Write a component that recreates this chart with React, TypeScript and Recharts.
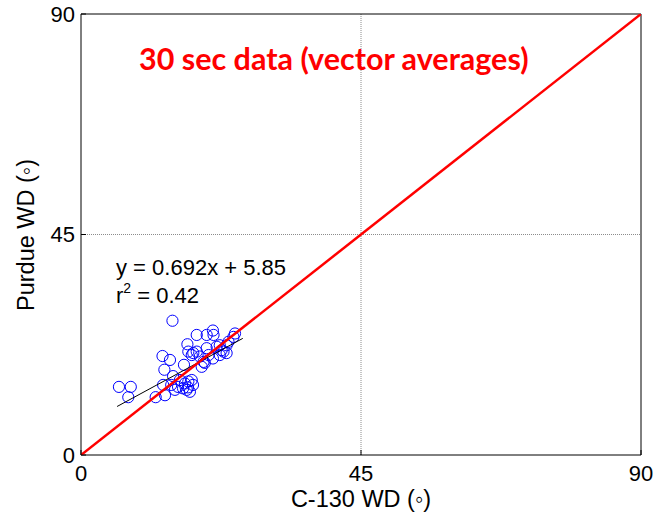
import React from "react";
import {
  ScatterChart,
  Scatter,
  XAxis,
  YAxis,
  ReferenceLine,
} from "recharts";

// 30 s vector-averaged wind direction, C-130 vs Purdue (degrees)
const c130Wd = [
  14.7, 6.1, 8.0, 7.6, 12.0, 13.1, 14.3, 13.4, 14.8, 13.2, 13.5, 15.1, 14.5,
  15.9, 16.7, 17.2, 17.8, 18.0, 17.0, 16.4, 15.6, 17.5, 16.55, 17.1, 17.25,
  18.6, 20.2, 21.2, 21.3, 18.6, 20.2, 19.1, 19.7, 20.5, 21.2, 21.8, 22.9, 23.4,
  23.7, 24.75, 24.5, 22.3, 19.4, 17.8, 22.3, 18.05, 19.9, 22.6, 23.4, 17.25,
];
const purdueWd = [
  27.4, 13.9, 13.9, 11.8, 11.8, 20.2, 19.4, 17.4, 16.1, 14.3, 12.2, 13.3, 14.3,
  15.3, 14.6, 13.8, 15.3, 14.3, 13.3, 13.6, 13.9, 12.9, 18.4, 22.6, 21.1,
  24.5, 24.5, 25.4, 24.5, 21.1, 21.8, 20.1, 19.0, 20.4, 19.7, 22.1, 21.1, 20.8,
  23.1, 24.8, 24.1, 22.4, 18.0, 20.4, 20.4, 20.8, 18.8, 21.4, 22.4, 15.0,
];

// least-squares fit ends (y = 0.692x + 5.85) and the 1:1 line
const fitX = [5.8, 26.0];
const fitY = [9.9, 23.8];
const oneToOneX = [0, 90];
const oneToOneY = [0, 90];

const axisTicks = [0, 45, 90];

const points = c130Wd.map((x, i) => ({ x, y: purdueWd[i] }));
const fitLine = fitX.map((x, i) => ({ x, y: fitY[i] }));
const oneToOne = oneToOneX.map((x, i) => ({ x, y: oneToOneY[i] }));

const FONT = "'Liberation Sans', Arial, sans-serif";

const OpenCircle = (props: any) => (
  <circle
    cx={props.cx}
    cy={props.cy}
    r={5.6}
    fill="none"
    stroke="#0000ff"
    strokeWidth={1}
  />
);

const NoDot = () => <g />;

const XTick = (props: any) => {
  const { x, y, payload } = props;
  const axisY = y - 10;
  return (
    <g>
      <line x1={x} x2={x} y1={axisY} y2={axisY - 5} stroke="#000" />
      <text
        x={x}
        y={y}
        dy="0.71em"
        textAnchor="middle"
        fontFamily={FONT}
        fontSize={22}
        fill="#000"
      >
        {payload.value}
      </text>
    </g>
  );
};

const YTick = (props: any) => {
  const { x, y, payload } = props;
  const axisX = x + 6;
  return (
    <g>
      <line x1={axisX} x2={axisX + 5} y1={y} y2={y} stroke="#000" />
      <text
        x={x}
        y={y}
        dy="0.36em"
        textAnchor="end"
        fontFamily={FONT}
        fontSize={22}
        fill="#000"
      >
        {payload.value}
      </text>
    </g>
  );
};

export default function App() {
  return (
    <div
      style={{
        position: "absolute",
        left: 0,
        top: 0,
        width: 659,
        height: 515,
        background: "#fff",
      }}
    >
      <ScatterChart
        width={659}
        height={515}
        margin={{ top: 14, right: 18, bottom: 30, left: 41 }}
      >
        <XAxis
          type="number"
          dataKey="x"
          domain={[0, 90]}
          ticks={axisTicks}
          height={30}
          tickSize={0}
          tickMargin={10}
          tick={<XTick />}
          axisLine={{ stroke: "#000", strokeWidth: 1 }}
          allowDataOverflow
        />
        <YAxis
          type="number"
          dataKey="y"
          domain={[0, 90]}
          ticks={axisTicks}
          width={40}
          tickSize={0}
          tickMargin={6}
          tick={<YTick />}
          axisLine={{ stroke: "#000", strokeWidth: 1 }}
          allowDataOverflow
        />
        <ReferenceLine x={45} stroke="#8c8c8c" strokeDasharray="1 1" />
        <ReferenceLine y={45} stroke="#8c8c8c" strokeDasharray="1 1" />
        <ReferenceLine x={90} stroke="#000" strokeWidth={1} />
        <ReferenceLine y={90} stroke="#000" strokeWidth={1} />
        <Scatter
          data={points}
          shape={<OpenCircle />}
          isAnimationActive={false}
        />
        <Scatter
          data={fitLine}
          line={{ stroke: "#000", strokeWidth: 1 }}
          shape={<NoDot />}
          isAnimationActive={false}
        />
        <Scatter
          data={oneToOne}
          line={{ stroke: "#ff0000", strokeWidth: 2.5 }}
          shape={<NoDot />}
          isAnimationActive={false}
        />
      </ScatterChart>
      <svg
        width={659}
        height={515}
        style={{ position: "absolute", left: 0, top: 0, pointerEvents: "none" }}
      >
        <text
          x={139}
          y={70}
          fontFamily="Lato, 'Open Sans', sans-serif"
          fontWeight="bold"
          fontSize={30.5}
          fill="#ff0000"
        >
          30 sec data (vector averages)
        </text>
        <text x={116} y={275} fontFamily={FONT} fontSize={22} fill="#000">
          y = 0.692x + 5.85
        </text>
        <text x={116} y={303} fontFamily={FONT} fontSize={22} fill="#000">
          r
          <tspan fontSize={14} dy={-10}>
            2
          </tspan>
          <tspan dy={10}> = 0.42</tspan>
        </text>
        <text
          x={361}
          y={507}
          textAnchor="middle"
          fontFamily={FONT}
          fontSize={23.5}
          fill="#000"
        >
          C-130 WD (◦)
        </text>
        <text
          x={34}
          y={235}
          transform="rotate(-90 34 235)"
          textAnchor="middle"
          fontFamily={FONT}
          fontSize={23.5}
          fill="#000"
        >
          Purdue WD (◦)
        </text>
      </svg>
    </div>
  );
}
